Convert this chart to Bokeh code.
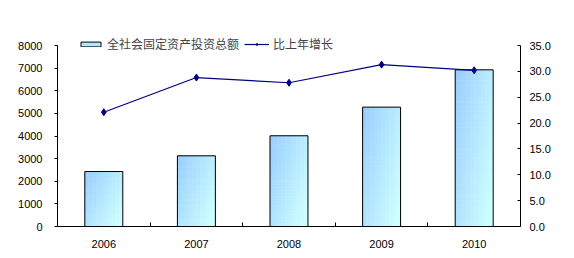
from bokeh.plotting import figure
from bokeh.models import Range1d, LinearAxis, FixedTicker, Legend, LegendItem, NumeralTickFormatter
from bokeh.embed import file_html
from bokeh.resources import INLINE

years = ["2006", "2007", "2008", "2009", "2010"]
investment = [2430, 3125, 4010, 5275, 6925]
growth = [22.1, 28.8, 27.8, 31.3, 30.2]
left_ticks = [0, 1000, 2000, 3000, 4000, 5000, 6000, 7000, 8000]
right_ticks = [0, 5, 10, 15, 20, 25, 30, 35]

xs = [i + 0.5 for i in range(len(years))]

# layout: axes span 181 px, frame extends 12 px above to hold the legend
axis_px = 181
frame_px = 193
left_max = 8000
right_max = 35
bar_w = 0.41

p = figure(width=574, height=258, output_backend="svg", toolbar_location=None,
           x_range=Range1d(0, len(years)),
           y_range=Range1d(0, left_max * frame_px / axis_px),
           min_border_left=57, min_border_right=54, min_border_top=33, min_border_bottom=32)
p.outline_line_color = None
p.xgrid.visible = False
p.ygrid.visible = False
p.extra_y_ranges = {"pct": Range1d(0, right_max * frame_px / axis_px)}

# gradient fill for the bars (top-left blue -> bottom-right cyan)
c0 = (0x99, 0xCC, 0xFF)
c1 = (0xCC, 0xFF, 0xFF)
nx, ny = 10, 30
L, R, B, T, C = [], [], [], [], []
for x, v in zip(xs, investment):
    x0 = x - bar_w / 2
    for i in range(nx):
        for j in range(ny):
            u = (i + 0.5) / nx
            w = (j + 0.5) / ny  # 0 at top
            t = min(1.0, 0.65 * u + 0.45 * w)
            col = "#%02x%02x%02x" % tuple(int(round(a + (b - a) * t)) for a, b in zip(c0, c1))
            L.append(x0 + bar_w * i / nx)
            R.append(x0 + bar_w * (i + 1) / nx)
            T.append(v * (1 - j / ny))
            B.append(v * (1 - (j + 1) / ny))
            C.append(col)
p.quad(left=L, right=R, top=T, bottom=B, fill_color=C, line_color=C, line_width=0.5)

bars = p.vbar(x=xs, top=investment, width=bar_w, bottom=0,
              fill_color=None, line_color="black", line_width=1)
ln = p.line(xs, growth, y_range_name="pct", line_color="#000080", line_width=1.2)
mk = p.scatter(xs, growth, y_range_name="pct", marker="diamond", size=7,
               fill_color="#000080", line_color="#000080")
# legend swatch helper (not drawn in the plot: zero-height)
sw = p.vbar(x=[xs[0]], top=[0], width=bar_w, bottom=0,
            fill_color="#B3E6FF", line_color="black", line_width=1)

font = "Liberation Sans"

# bottom axis
xa = p.xaxis[0]
xa.ticker = FixedTicker(ticks=xs, minor_ticks=[1, 2, 3, 4])
xa.major_label_overrides = {x: y for x, y in zip(xs, years)}
xa.major_tick_in = 0
xa.major_tick_out = 0
xa.minor_tick_in = 4
xa.minor_tick_out = 0
xa.minor_tick_line_color = "black"
xa.axis_line_color = "black"
xa.major_label_standoff = 13
xa.major_label_text_font = font
xa.major_label_text_font_size = "11px"
xa.major_label_text_color = "black"

# left axis
ya = p.yaxis[0]
ya.ticker = FixedTicker(ticks=left_ticks)
ya.bounds = (0, left_max)
ya.minor_tick_line_color = None
ya.major_tick_in = 0
ya.major_tick_out = 3
ya.major_tick_line_color = "black"
ya.axis_line_color = "black"
ya.major_label_standoff = 12
ya.major_label_text_font = font
ya.major_label_text_font_size = "11px"
ya.major_label_text_color = "black"

# right axis
ra = LinearAxis(y_range_name="pct", ticker=FixedTicker(ticks=right_ticks),
                formatter=NumeralTickFormatter(format="0.0"), bounds=(0, right_max))
ra.minor_tick_line_color = None
ra.major_tick_in = 3
ra.major_tick_out = 0
ra.major_tick_line_color = "black"
ra.axis_line_color = "black"
ra.major_label_standoff = 9
ra.major_label_text_font = font
ra.major_label_text_font_size = "11px"
ra.major_label_text_color = "black"
p.add_layout(ra, "right")

legend = Legend(items=[LegendItem(label="全社会固定资产投资总额", renderers=[sw]),
                       LegendItem(label="比上年增长", renderers=[ln, mk])],
                orientation="horizontal", location=(21, frame_px - 19),
                label_text_font="Noto Sans CJK SC", label_text_font_size="12px",
                glyph_width=25, glyph_height=6, padding=0, margin=0, spacing=5,
                label_standoff=4, border_line_color=None, background_fill_alpha=0)
p.add_layout(legend, "center")

open("out.html", "w").write(file_html(p, INLINE))
